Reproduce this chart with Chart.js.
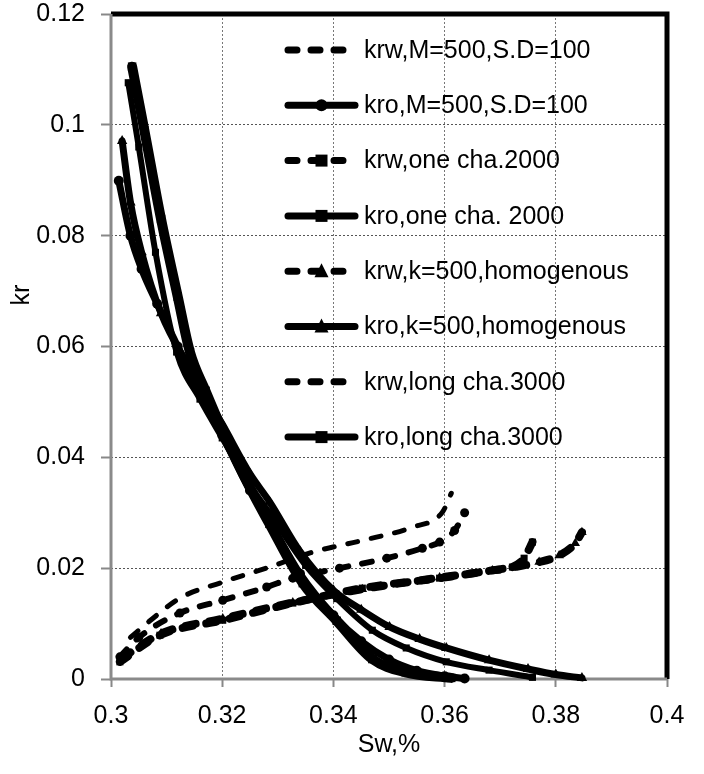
<!DOCTYPE html>
<html>
<head>
<meta charset="utf-8">
<script src="https://cdn.jsdelivr.net/npm/chart.js@4.4.0/dist/chart.umd.min.js"></script>
<style>
  html, body { margin: 0; padding: 0; background: #fff; }
  #wrap { width: 704px; height: 774px; }
</style>
</head>
<body>
<div id="wrap"><canvas id="kr-chart" width="704" height="774"></canvas></div>
<script>
// values (Sw on x, kr on y)
const swKrwMSD = [0.3016, 0.305, 0.3124, 0.3201, 0.328, 0.3327, 0.3411, 0.3496, 0.356, 0.3591, 0.3618, 0.3636];
const krwMSD = [0.0040, 0.0075, 0.0119, 0.0142, 0.0166, 0.0182, 0.0200, 0.0218, 0.0236, 0.0247, 0.0268, 0.0300];

const swKroMSD = [0.3014, 0.3035, 0.3055, 0.3083, 0.312, 0.316, 0.32, 0.325, 0.3285, 0.334, 0.34, 0.345, 0.35, 0.355, 0.36, 0.3636];
const kroMSD = [0.0899, 0.080, 0.074, 0.0677, 0.060, 0.052, 0.044, 0.034, 0.0285, 0.019, 0.0115, 0.0068, 0.0035, 0.0015, 0.0005, 0.0001];

const swKrwOne = [0.3016, 0.3088, 0.3201, 0.3327, 0.3452, 0.3591, 0.3686, 0.3722, 0.3743, 0.3758];
const krwOne = [0.0031, 0.0079, 0.0106, 0.0137, 0.0164, 0.0182, 0.0196, 0.0202, 0.0218, 0.0247];

const swKroOne = [0.3031, 0.305, 0.308, 0.3118, 0.316, 0.32, 0.325, 0.3285, 0.335, 0.3406, 0.347, 0.3531, 0.3603, 0.368, 0.3758];
const kroOne = [0.1076, 0.096, 0.077, 0.059, 0.0505, 0.0435, 0.035, 0.030, 0.0205, 0.0145, 0.0088, 0.0056, 0.0031, 0.0016, 0.0003];

const swKrwHom = [0.302, 0.309, 0.3201, 0.3327, 0.3452, 0.3591, 0.3686, 0.377, 0.3806, 0.3835, 0.3847];
const krwHom = [0.0038, 0.0082, 0.0109, 0.0138, 0.0162, 0.0183, 0.0196, 0.0211, 0.0223, 0.0245, 0.0265];

const swKroHom = [0.302, 0.3035, 0.3055, 0.309, 0.3142, 0.32, 0.325, 0.3285, 0.334, 0.34, 0.345, 0.3501, 0.3555, 0.3603, 0.368, 0.375, 0.38, 0.3847];
const kroHom = [0.0971, 0.086, 0.077, 0.066, 0.056, 0.046, 0.037, 0.032, 0.023, 0.016, 0.0125, 0.0094, 0.0072, 0.0056, 0.0034, 0.0018, 0.0008, 0.0002];

const swKrwLong = [0.3035, 0.307, 0.3124, 0.3201, 0.3285, 0.3363, 0.3452, 0.3542, 0.3596, 0.3612];
const krwLong = [0.0075, 0.0105, 0.0146, 0.0175, 0.0202, 0.0229, 0.025, 0.0274, 0.0301, 0.0335];

const swKroLong = [0.3038, 0.306, 0.309, 0.312, 0.3142, 0.317, 0.32, 0.325, 0.3285, 0.3345, 0.3406, 0.347, 0.353, 0.3612];
const kroLong = [0.1105, 0.099, 0.083, 0.069, 0.059, 0.052, 0.045, 0.0345, 0.028, 0.0173, 0.0105, 0.0036, 0.0012, 0.0002];

const seriesLabels = [
  'krw,M=500,S.D=100', 'kro,M=500,S.D=100',
  'krw,one cha.2000', 'kro,one cha. 2000',
  'krw,k=500,homogenous', 'kro,k=500,homogenous',
  'krw,long cha.3000', 'kro,long cha.3000'
];
const xTicks = [0.3, 0.32, 0.34, 0.36, 0.38, 0.4];
const yTicks = [0, 0.02, 0.04, 0.06, 0.08, 0.1, 0.12];

const FONT = '"Liberation Sans", Arial, sans-serif';

function pts(xs, ys) {
  return xs.map((x, i) => ({ x: x, y: ys[i] }));
}

function series(label, data, dashed, width, marker, radius, legendMarker) {
  return {
    label: label,
    data: data,
    showLine: true,
    borderColor: '#000',
    backgroundColor: '#000',
    borderWidth: width,
    borderDash: dashed ? [10, 14] : [],
    borderCapStyle: 'round',
    borderJoinStyle: 'round',
    cubicInterpolationMode: 'monotone',
    pointStyle: marker || 'circle',
    pointRadius: marker ? radius : 0,
    pointBorderWidth: 0,
    legendMarker: legendMarker,
    clip: 8
  };
}

// legend drawn inside the plot, like the original
const innerLegend = {
  id: 'innerLegend',
  afterDatasetsDraw(chart) {
    const ctx = chart.ctx;
    const a = chart.chartArea;
    const x0 = a.left + 177, x1 = a.left + 244, tx = a.left + 253;
    ctx.save();
    chart.data.datasets.forEach((ds, i) => {
      const y = a.top + 36 + i * 55.3;
      ctx.strokeStyle = '#000';
      ctx.lineWidth = 7;
      ctx.lineCap = 'round';
      ctx.setLineDash(ds.borderDash.length ? [9, 14] : []);
      ctx.beginPath();
      ctx.moveTo(x0, y);
      ctx.lineTo(x1, y);
      ctx.stroke();
      ctx.setLineDash([]);
      if (ds.legendMarker) {
        const cx = (x0 + x1) / 2, r = 6;
        ctx.fillStyle = '#000';
        ctx.beginPath();
        if (ds.pointStyle === 'rect') {
          ctx.rect(cx - r, y - r, 2 * r, 2 * r);
        } else if (ds.pointStyle === 'triangle') {
          ctx.moveTo(cx, y - r - 2);
          ctx.lineTo(cx + r + 1, y + r);
          ctx.lineTo(cx - r - 1, y + r);
          ctx.closePath();
        } else {
          ctx.arc(cx, y, r, 0, Math.PI * 2);
        }
        ctx.fill();
      }
      ctx.fillStyle = '#000';
      ctx.font = '25px ' + FONT;
      ctx.textBaseline = 'middle';
      ctx.textAlign = 'left';
      ctx.fillText(ds.label, tx, y + 1);
    });
    ctx.restore();
  }
};

// plot frame: grey axes left/bottom, heavy black top/right
const plotFrame = {
  id: 'plotFrame',
  beforeDatasetsDraw(chart) {
    const ctx = chart.ctx;
    const a = chart.chartArea;
    ctx.save();
    ctx.strokeStyle = '#000';
    ctx.lineWidth = 5;
    ctx.beginPath();
    ctx.moveTo(a.left, a.top);
    ctx.lineTo(a.right, a.top);
    ctx.lineTo(a.right, a.bottom);
    ctx.stroke();
    ctx.strokeStyle = '#8a8a8a';
    ctx.lineWidth = 3;
    ctx.beginPath();
    ctx.moveTo(a.left, a.top);
    ctx.lineTo(a.left, a.bottom);
    ctx.lineTo(a.right, a.bottom);
    ctx.stroke();
    ctx.restore();
  },
  afterDraw(chart) {
    const ctx = chart.ctx;
    ctx.save();
    ctx.translate(22, 295);
    ctx.rotate(-Math.PI / 2);
    ctx.fillStyle = '#000';
    ctx.font = '25px ' + FONT;
    ctx.textAlign = 'center';
    ctx.textBaseline = 'middle';
    ctx.fillText('kr', 0, 0);
    ctx.restore();
  }
};

const fmt = v => v === 0 ? '0' : String(parseFloat(v.toFixed(2)));

const ctx = document.getElementById('kr-chart').getContext('2d');
new Chart(ctx, {
  type: 'scatter',
  data: {
    datasets: [
      series(seriesLabels[0], pts(swKrwMSD, krwMSD), true, 6, 'circle', 4.5, false),
      series(seriesLabels[1], pts(swKroMSD, kroMSD), false, 7, 'circle', 5, true),
      series(seriesLabels[2], pts(swKrwOne, krwOne), true, 8, 'rect', 5, true),
      series(seriesLabels[3], pts(swKroOne, kroOne), false, 6, 'rect', 5, true),
      series(seriesLabels[4], pts(swKrwHom, krwHom), true, 8, 'triangle', 5.5, true),
      series(seriesLabels[5], pts(swKroHom, kroHom), false, 7, 'triangle', 6, true),
      series(seriesLabels[6], pts(swKrwLong, krwLong), true, 5, null, 0, false),
      series(seriesLabels[7], pts(swKroLong, kroLong), false, 10, 'rect', 6, true)
    ]
  },
  options: {
    responsive: false,
    animation: false,
    devicePixelRatio: 1,
    layout: { padding: { top: 14, right: 37, left: 0, bottom: 0 } },
    plugins: {
      legend: { display: false },
      tooltip: { enabled: false }
    },
    scales: {
      x: {
        type: 'linear',
        min: xTicks[0],
        max: xTicks[xTicks.length - 1],
        afterBuildTicks: s => { s.ticks = xTicks.map(v => ({ value: v })); },
        afterFit: s => { s.height = 95; s.paddingLeft = 0; s.paddingRight = 0; },
        ticks: {
          callback: fmt,
          color: '#000',
          padding: 14,
          maxRotation: 0,
          font: { family: FONT, size: 25 }
        },
        grid: {
          color: '#777',
          lineWidth: 1,
          tickLength: 8,
          tickColor: '#888',
          tickWidth: 2,
          tickBorderDash: []
        },
        border: { display: false, dash: [2, 2] },
        title: {
          display: true,
          text: 'Sw,%',
          color: '#000',
          padding: { top: 0, bottom: 14 },
          font: { family: FONT, size: 25 }
        }
      },
      y: {
        type: 'linear',
        min: yTicks[0],
        max: yTicks[yTicks.length - 1],
        afterBuildTicks: s => { s.ticks = yTicks.map(v => ({ value: v })); },
        afterFit: s => { s.width = 111; s.paddingTop = 0; s.paddingBottom = 0; },
        ticks: {
          callback: fmt,
          color: '#000',
          padding: 16,
          font: { family: FONT, size: 25 }
        },
        grid: {
          color: '#555',
          lineWidth: 1,
          tickLength: 10,
          tickColor: '#888',
          tickWidth: 2,
          tickBorderDash: []
        },
        border: { display: false, dash: [2, 2] }
      }
    }
  },
  plugins: [plotFrame, innerLegend]
});
</script>
</body>
</html>
